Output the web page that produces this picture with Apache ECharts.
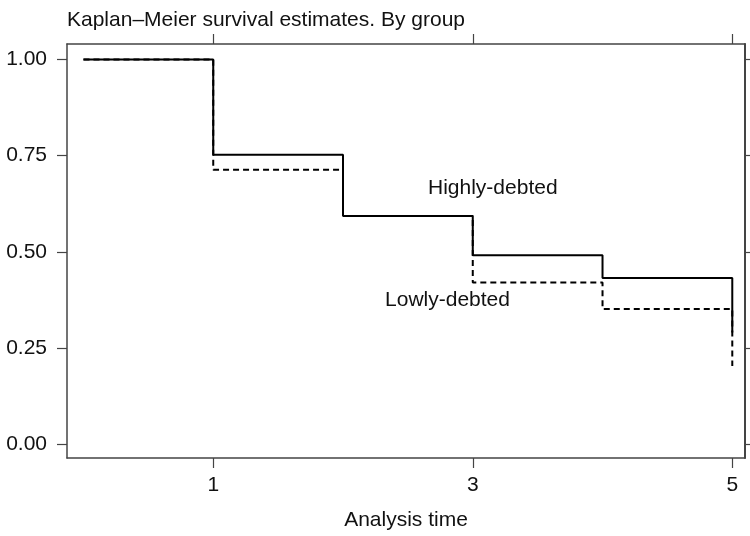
<!DOCTYPE html>
<html>
<head>
<meta charset="utf-8">
<script src="https://cdn.jsdelivr.net/npm/echarts@6/dist/echarts.min.js"></script>
<style>html,body{margin:0;padding:0;background:#fff;}#c{width:750px;height:536px;}</style>
</head>
<body>
<div id="c"></div>
<script>
const titleText = 'Kaplan–Meier survival estimates. By group';
const xAxisTitle = 'Analysis time';
const times = [0, 1, 2, 3, 4, 5];
const highlyDebted = [1.0, 0.752, 0.593, 0.491, 0.432, 0.29];
const lowlyDebted = [1.0, 0.713, 0.593, 0.42, 0.351, 0.203];
const xTicks = [1, 3, 5];
const yTicks = [0, 0.25, 0.5, 0.75, 1.0];
const labelHighly = {text: 'Highly-debted', x: 2.655, y: 0.664};
const labelLowly = {text: 'Lowly-debted', x: 2.324, y: 0.373};

const FONT = 'Liberation Sans, Arial, Helvetica, sans-serif';
const FS = 21;
const AX = '#444';

const chart = echarts.init(document.getElementById('c'), null, {renderer: 'canvas'});

function pairs(xs, ys) { return xs.map((x, i) => [x, ys[i]]); }

function axisCommon() {
  return {
    type: 'value',
    min: -0.127,
    max: 5.098,
    splitLine: {show: false},
    axisLine: {show: true, onZero: false, lineStyle: {color: AX, width: 1.5}},
  };
}

const option = {
  animation: false,
  backgroundColor: '#fff',
  title: {
    text: titleText,
    left: 67,
    top: 10,
    padding: 0,
    textStyle: {fontFamily: FONT, fontSize: FS, fontWeight: 'normal', color: '#111'}
  },
  grid: {left: 67, right: 5, top: 44, bottom: 74, containLabel: false},
  xAxis: [
    Object.assign(axisCommon(), {
      position: 'bottom',
      name: xAxisTitle,
      nameLocation: 'middle',
      nameGap: 52,
      nameTextStyle: {fontFamily: FONT, fontSize: FS, color: '#111'},
      axisTick: {show: true, inside: false, length: 10, customValues: xTicks, lineStyle: {color: AX, width: 1.2}},
      axisLabel: {show: true, margin: 17, customValues: xTicks, fontFamily: FONT, fontSize: FS, color: '#111',
        formatter: v => String(v)}
    }),
    Object.assign(axisCommon(), {
      position: 'top',
      axisTick: {show: true, inside: false, length: 10, customValues: xTicks, lineStyle: {color: AX, width: 1.2}},
      axisLabel: {show: false}
    })
  ],
  yAxis: [
    {
      type: 'value', min: -0.036, max: 1.04, position: 'left',
      splitLine: {show: false},
      axisLine: {show: true, onZero: false, lineStyle: {color: AX, width: 1.5}},
      axisTick: {show: true, inside: false, length: 10, customValues: yTicks, lineStyle: {color: AX, width: 1.2}},
      axisLabel: {show: true, margin: 20, customValues: yTicks, fontFamily: FONT, fontSize: FS, color: '#111',
        formatter: v => v.toFixed(2)}
    },
    {
      type: 'value', min: -0.036, max: 1.04, position: 'right',
      splitLine: {show: false},
      axisLine: {show: true, onZero: false, lineStyle: {color: AX, width: 2}},
      axisTick: {show: true, inside: false, length: 10, customValues: yTicks, lineStyle: {color: AX, width: 1.2}},
      axisLabel: {show: false}
    }
  ],
  series: [
    {
      name: 'Lowly-debted',
      type: 'line',
      step: 'end',
      data: pairs(times, lowlyDebted),
      symbol: 'none',
      lineStyle: {color: '#000', width: 2, type: [6, 4]},
      markPoint: {
        symbol: 'circle', symbolSize: 0,
        label: {show: true, position: 'right', distance: 0, formatter: labelLowly.text,
          fontFamily: FONT, fontSize: FS, color: '#111'},
        data: [{coord: [labelLowly.x, labelLowly.y]}]
      },
      z: 3
    },
    {
      name: 'Highly-debted',
      type: 'line',
      step: 'end',
      data: pairs(times, highlyDebted),
      symbol: 'none',
      lineStyle: {color: '#000', width: 2},
      markPoint: {
        symbol: 'circle', symbolSize: 0,
        label: {show: true, position: 'right', distance: 0, formatter: labelHighly.text,
          fontFamily: FONT, fontSize: FS, color: '#111'},
        data: [{coord: [labelHighly.x, labelHighly.y]}]
      },
      z: 2
    }
  ]
};
chart.setOption(option);
</script>
</body>
</html>
